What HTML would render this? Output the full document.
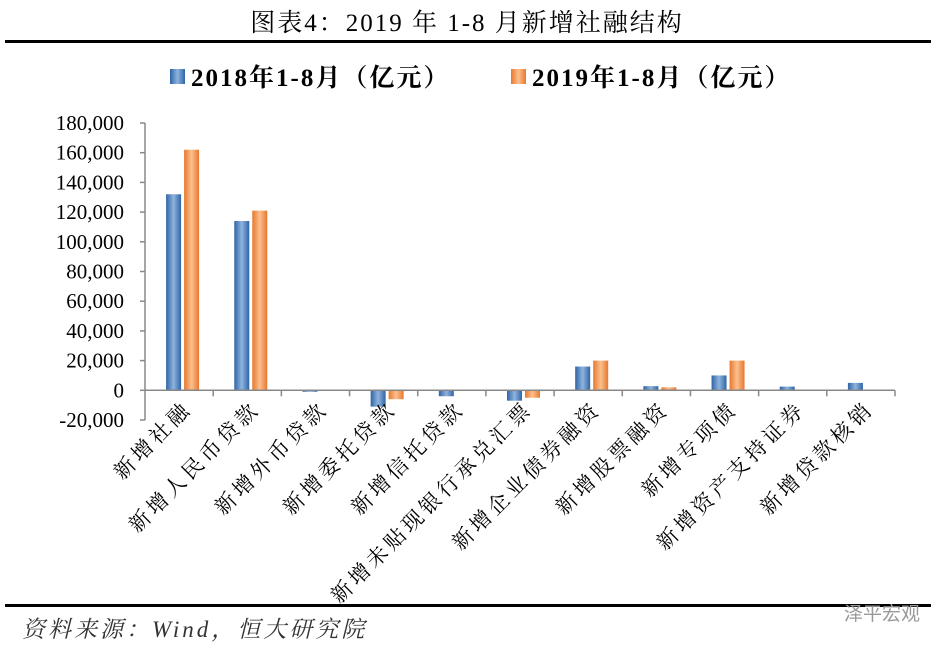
<!DOCTYPE html>
<html><head><meta charset="utf-8"><style>
body{margin:0;background:#fff;width:952px;height:654px;overflow:hidden;font-family:"Liberation Serif","Noto Serif CJK SC",serif;}
</style></head><body>
<svg width="952" height="654" xmlns="http://www.w3.org/2000/svg">
<defs>
<linearGradient id="gb" x1="0" x2="1"><stop offset="0" stop-color="#2f64a6"/><stop offset="0.5" stop-color="#8fb4de"/><stop offset="1" stop-color="#2f64a6"/></linearGradient>
<linearGradient id="go" x1="0" x2="1"><stop offset="0" stop-color="#e8772e"/><stop offset="0.5" stop-color="#fbc08e"/><stop offset="1" stop-color="#e8772e"/></linearGradient>
</defs>
<text x="467" y="31" text-anchor="middle" font-size="25" letter-spacing="2" font-family="Liberation Serif, Noto Serif CJK SC, serif">图表4：2019 年 1-8 月新增社融结构</text>
<rect x="5" y="40" width="926" height="3" fill="#000"/>
<g font-size="25" font-weight="bold" letter-spacing="2">
<rect x="170" y="69" width="15" height="15" fill="url(#gb)"/>
<text x="191" y="86">2018年1-8月（亿元）</text>
<rect x="511" y="69" width="15" height="15" fill="url(#go)"/>
<text x="532" y="86">2019年1-8月（亿元）</text>
</g>
<g id="plot"></g>
<rect x="5" y="604" width="926" height="3" fill="#000"/>
<text x="22" y="637" font-size="23" letter-spacing="3" font-style="italic" fill="#333" font-family="Liberation Serif, Noto Serif CJK SC, serif">资料来源：Wind，恒大研究院</text>
<text x="920" y="620" text-anchor="end" font-size="19" fill="#999" font-family="Noto Sans CJK SC, sans-serif">泽平宏观</text>
</svg>
<script>
const categories=["新增社融","新增人民币贷款","新增外币贷款","新增委托贷款","新增信托贷款","新增未贴现银行承兑汇票","新增企业债券融资","新增股票融资","新增专项债","新增资产支持证券","新增贷款核销"];
const s2018=[132000,114000,-1000,-11000,-4000,-7000,16000,2800,10000,2500,5000];
const s2019=[162000,121000,-300,-6000,-300,-5000,20000,2000,20000,0,0];
const yTicks=[-20000,0,20000,40000,60000,80000,100000,120000,140000,160000,180000];
const NS="http://www.w3.org/2000/svg";
const g=document.getElementById('plot');
const x0=145,x1=895,yMin=-20000,yMax=180000,py0=420,py1=123;
const y=v=>py0-(v-yMin)/(yMax-yMin)*(py0-py1);
const bw=(x1-x0)/categories.length;
const cx=i=>x0+bw*(i+0.5);
function el(t,a){const e=document.createElementNS(NS,t);for(const k in a)e.setAttribute(k,a[k]);g.appendChild(e);return e;}
yTicks.forEach(v=>{
 const t=el('text',{x:124,y:y(v)+7,'text-anchor':'end','font-size':21});
 
 
 t.textContent=v.toLocaleString('en-US');
 const l=el('line',{x1:x0-5,x2:x0,y1:y(v),y2:y(v),stroke:'#888','stroke-width':1.5});
 
 
});
categories.forEach((c,i)=>{
 const b1=el('rect',{x:cx(i)-13,y:Math.min(y(s2018[i]),y(0)),width:15,height:Math.abs(y(s2018[i])-y(0)),fill:'url(#gb)'});
 
 
 const b2=el('rect',{x:cx(i)+5,y:Math.min(y(s2019[i]),y(0)),width:15,height:Math.abs(y(s2019[i])-y(0)),fill:'url(#go)'});
 
 
 const tk=el('line',{x1:x0+bw*(i+1),x2:x0+bw*(i+1),y1:y(0),y2:y(0)+6,stroke:'#888','stroke-width':1.5});
 
 
 const lx=cx(i)+14,ly=410;
 const t=el('text',{x:lx,y:ly,'text-anchor':'end','font-size':21,'letter-spacing':4,transform:`rotate(-45 ${lx} ${ly})`});
 
 
 t.textContent=c;
});
const ya=el('line',{x1:x0,x2:x0,y1:py1,y2:py0,stroke:'#888','stroke-width':1.5});


const xa=el('line',{x1:x0,x2:x1,y1:y(0),y2:y(0),stroke:'#888','stroke-width':1.5});


</script>
</body></html>
